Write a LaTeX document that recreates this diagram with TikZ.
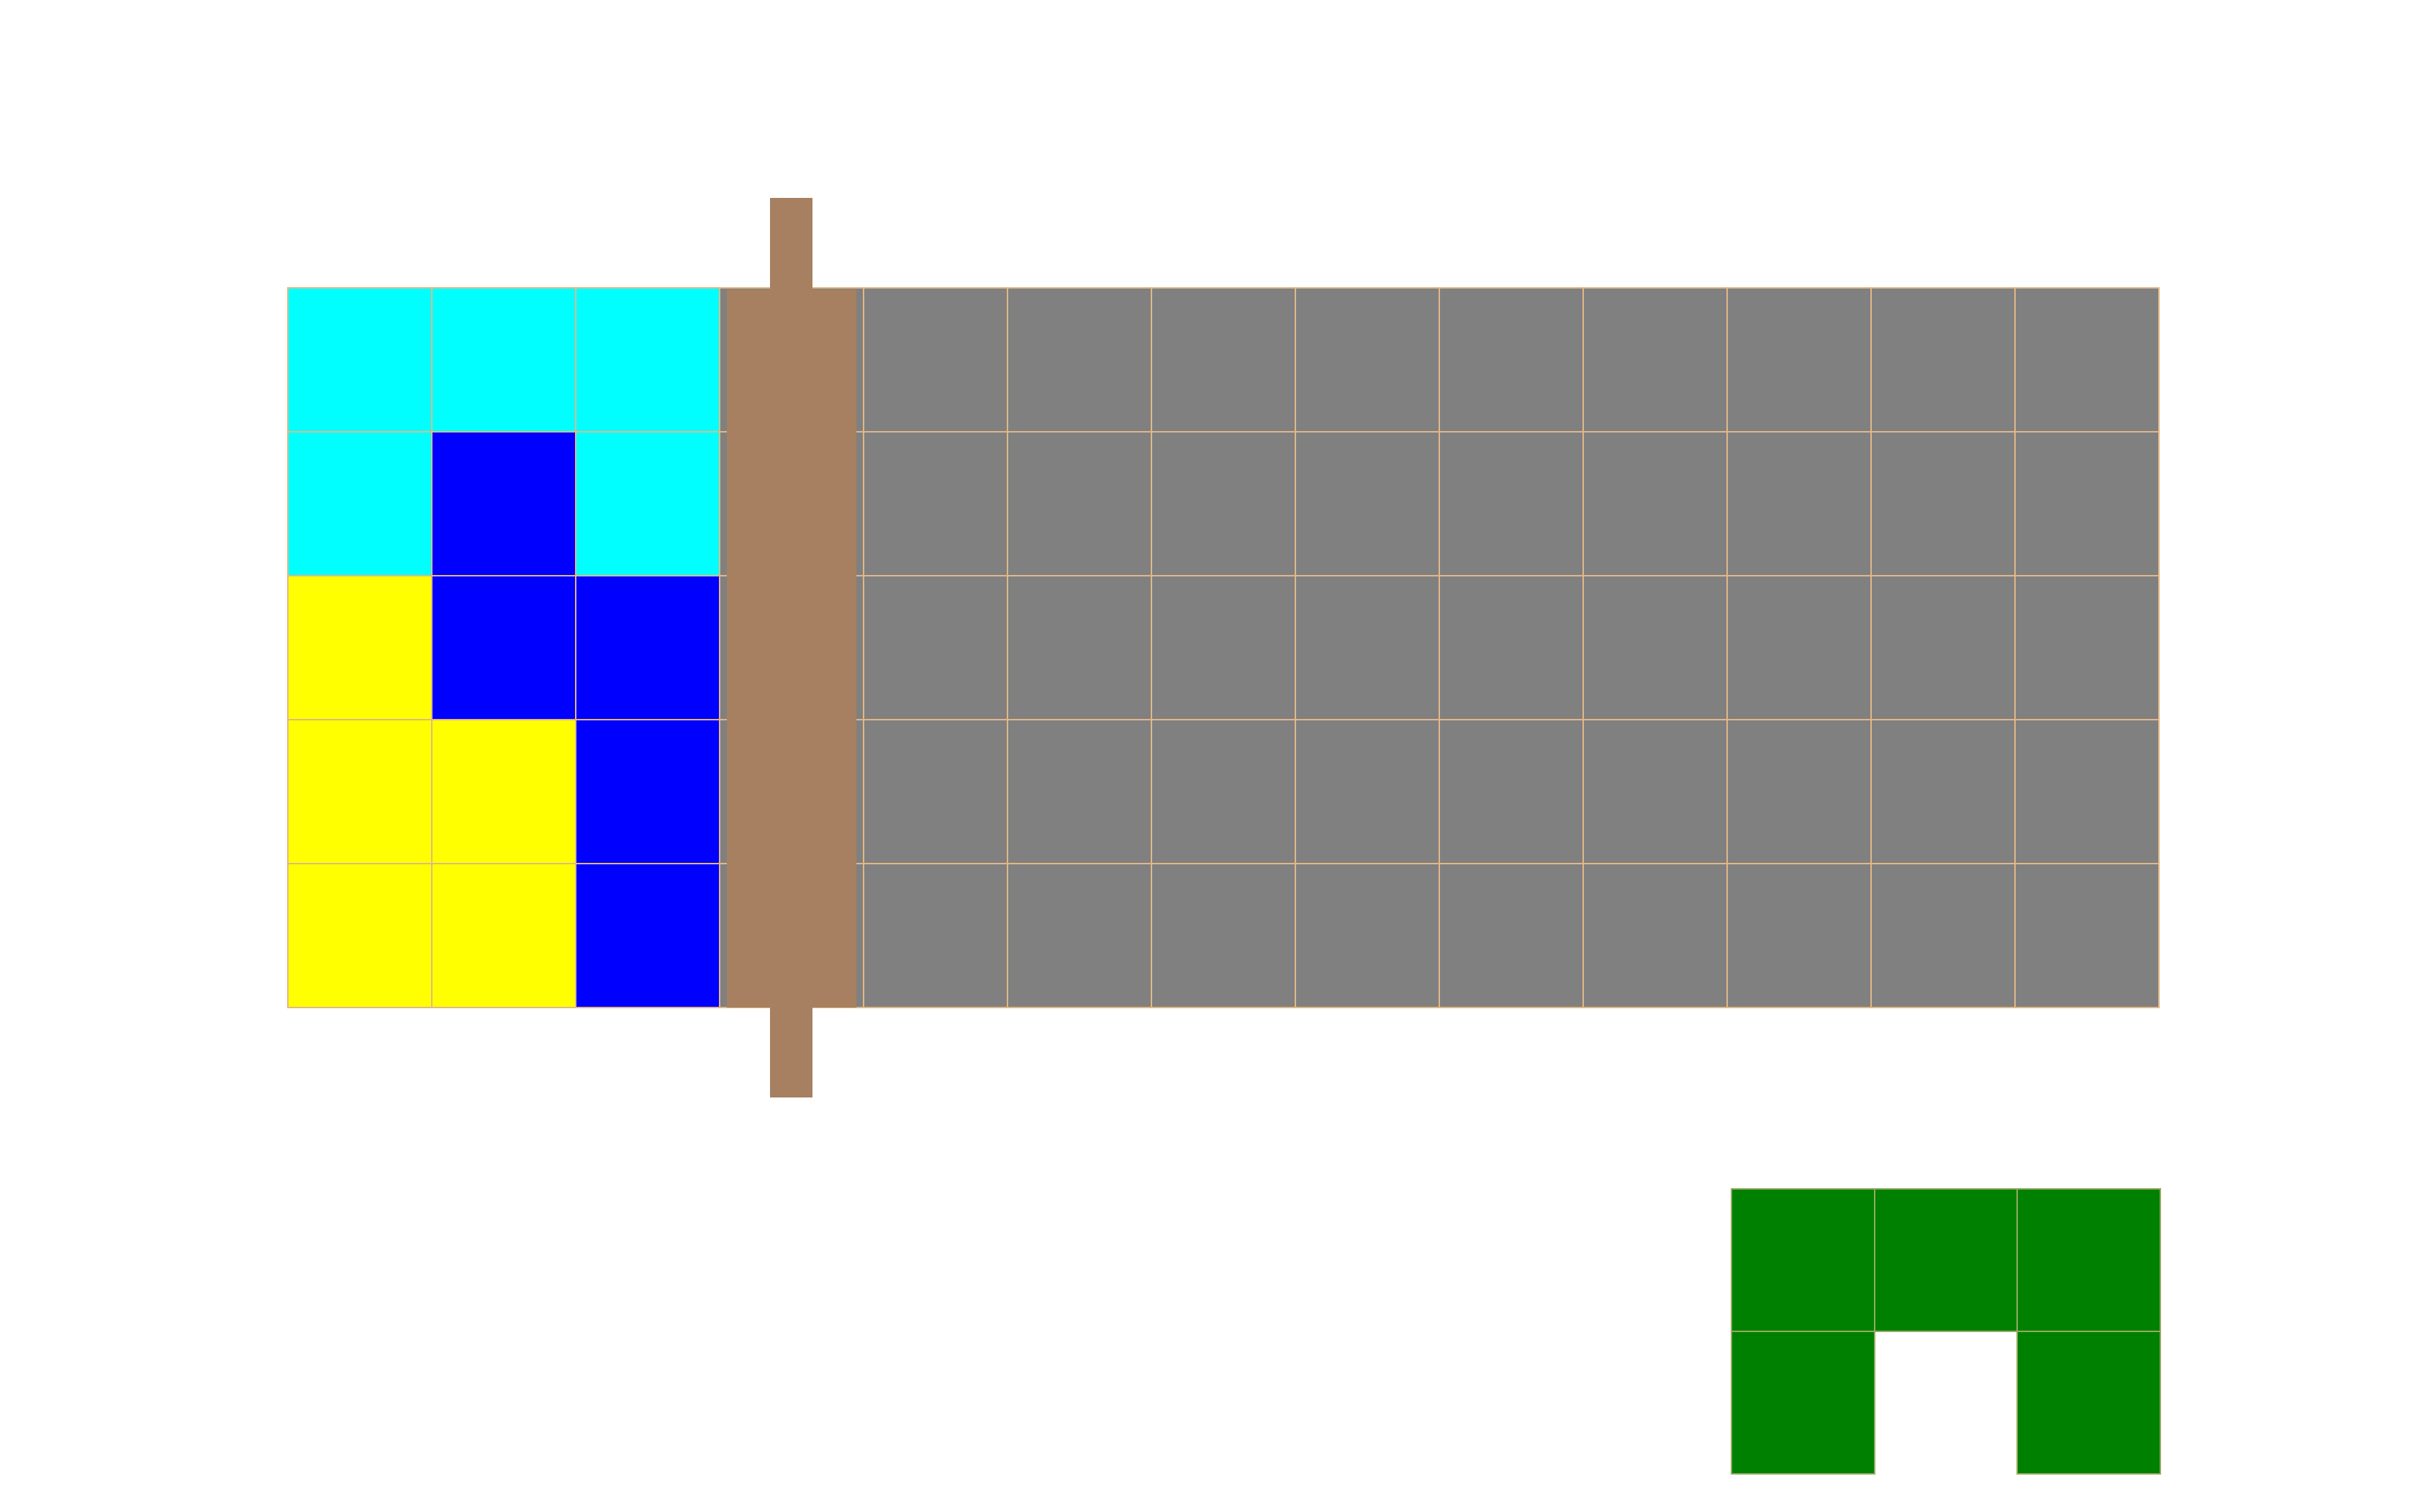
\documentclass[tikz,border=0pt]{standalone}
\usepackage{tikz}
\definecolor{gridline}{RGB}{226,184,134}
\definecolor{woodbrown}{RGB}{166,128,96}
\definecolor{boardgrey}{RGB}{128,128,128}
\definecolor{leafgreen}{RGB}{0,128,0}
\definecolor{greenline}{RGB}{150,170,100}
\definecolor{aqua}{RGB}{0,255,255}
\definecolor{lemon}{RGB}{255,255,0}
\definecolor{deepblue}{RGB}{0,0,255}
\tikzstyle{cell} = [draw=gridline, line width=0.6pt]
\tikzstyle{greencell} = [draw=greenline, line width=0.5pt, fill=leafgreen]
\tikzstyle{wood} = [fill=woodbrown]

\begin{document}
\begin{tikzpicture}[x=2cm, y=-2cm]
\useasboundingbox (0,0) rectangle (16.8,10.5);
% Grey board
\foreach \col in {5,...,14}
  \foreach \row in {2,...,6}
    \draw [cell, fill=boardgrey] (\col,\row) rectangle ++(1,1);

% Coloured block
\foreach \col/\row/\shade in {2/2/aqua, 3/2/aqua, 4/2/aqua,
                               2/3/aqua, 3/3/deepblue, 4/3/aqua,
                               2/4/lemon, 3/4/deepblue, 4/4/deepblue,
                               2/5/lemon, 3/5/lemon, 4/5/deepblue,
                               2/6/lemon, 3/6/lemon, 4/6/deepblue}
  \draw [cell, fill=\shade] (\col,\row) rectangle ++(1,1);

% Wooden bar
\fill [wood] (5.05,2.01) rectangle (5.95,7);
\fill [wood] (5.35,1.375) rectangle (5.645,7.625);

% Green piece
\foreach \col/\row in {12.03/8.26, 13.023/8.26, 14.016/8.26, 12.03/9.25, 14.016/9.25}
  \draw [greencell] (\col,\row) rectangle ++(0.993,0.99);

\end{tikzpicture}
\end{document}
